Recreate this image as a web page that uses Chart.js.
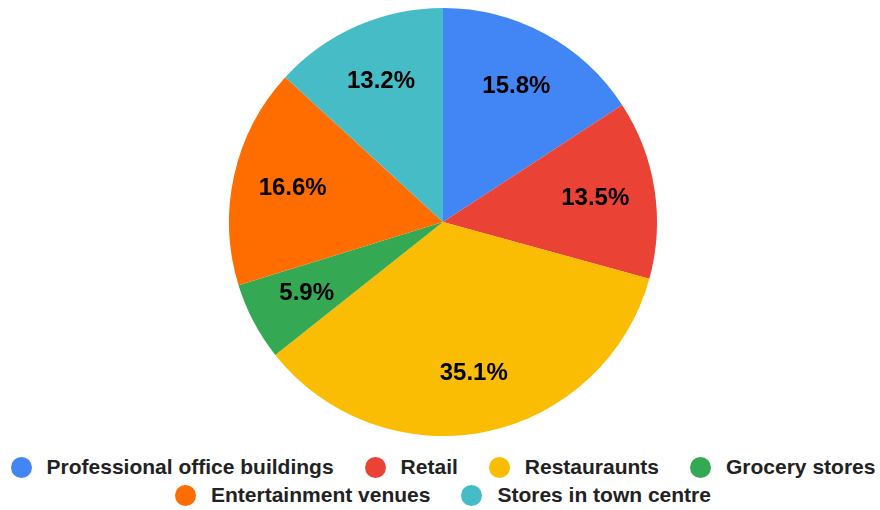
<!DOCTYPE html>
<html>
<head>
<meta charset="utf-8">
<script src="https://cdn.jsdelivr.net/npm/chart.js@4/dist/chart.umd.min.js"></script>
<style>
  body { margin: 0; background: #fff; font-family: "Liberation Sans", Arial, sans-serif; }
  #wrap { position: relative; width: 880px; height: 510px; }
  #chartBox { position: absolute; left: 0; top: 0; width: 880px; height: 444px; }
  #legend {
    position: absolute; left: 0; top: 453px; width: 880px; padding-left: 6px; box-sizing: border-box;
    display: flex; flex-wrap: wrap; justify-content: center; column-gap: 31px;
    font-size: 21px; font-weight: bold; color: #222; line-height: 28px;
  }
  .item { display: flex; align-items: center; white-space: nowrap; }
  .dot { width: 21px; height: 21px; border-radius: 50%; margin-right: 15px; }
</style>
</head>
<body>
<div id="wrap">
  <div id="chartBox"><canvas id="chart"></canvas></div>
  <div id="legend"></div>
</div>
<script>
// Data
let categories = ["Professional office buildings", "Retail", "Restauraunts", "Grocery stores", "Entertainment venues", "Stores in town centre"];
let shares = [15.8, 13.5, 35.1, 5.9, 16.6, 13.2];
let colors = ["#4285F4", "#EA4335", "#FBBC04", "#34A853", "#FF6D01", "#46BDC6"];

// Percentage labels inside slices
let sliceLabels = {
    id: "sliceLabels",
    afterDatasetsDraw(chart) {
        let ctx = chart.ctx;
        let arcs = chart.getDatasetMeta(0).data;
        ctx.save();
        ctx.font = "bold 24px 'Liberation Sans', Arial, sans-serif";
        ctx.fillStyle = "#000";
        ctx.textAlign = "center";
        ctx.textBaseline = "middle";
        arcs.forEach((arc, i) => {
            let mid = (arc.startAngle + arc.endAngle) / 2;
            let r = arc.outerRadius * 0.72;
            ctx.fillText(shares[i].toFixed(1) + "%", arc.x + Math.cos(mid) * r, arc.y + Math.sin(mid) * r);
        });
        ctx.restore();
    }
};

// Chart
let chart = new Chart(document.getElementById("chart"), {
    type: "pie",
    data: {
        labels: categories,
        datasets: [{
            data: shares,
            backgroundColor: colors,
            borderWidth: 0
        }]
    },
    options: {
        responsive: true,
        maintainAspectRatio: false,
        animation: false,
        layout: { padding: { top: 8, bottom: 8, left: 6, right: 0 } },
        plugins: {
            legend: { display: false },
            tooltip: { enabled: false }
        }
    },
    plugins: [sliceLabels]
});

// Legend
let legend = document.getElementById("legend");
categories.forEach((name, i) => {
    let item = document.createElement("div");
    item.className = "item";
    item.innerHTML = `<span class="dot" style="background:${colors[i]}"></span><span>${name}</span>`;
    legend.appendChild(item);
});
</script>
</body>
</html>
